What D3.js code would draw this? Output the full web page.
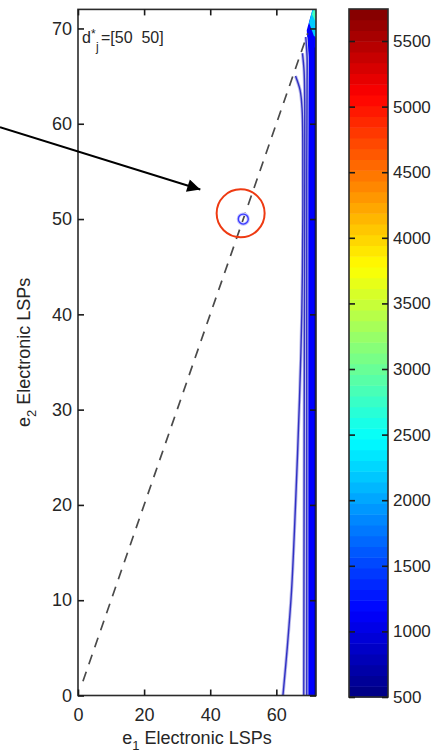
<!DOCTYPE html>
<html>
<head>
<meta charset="utf-8">
<script src="https://cdn.jsdelivr.net/npm/d3@7"></script>
<style>
  html, body { margin: 0; padding: 0; background: #fff; }
  svg { display: block; font-family: "Liberation Sans", Arial, Helvetica, sans-serif; }
</style>
</head>
<body>
<div id="chart"></div>
<script>
// ---------------- data ----------------
const xDomain = [0, 72];
const yDomain = [0, 72];
const xTicks = [0, 20, 40, 60];
const yTicks = [0, 10, 20, 30, 40, 50, 60, 70];
const colorDomain = [500, 5744];
const colorTicks = [500, 1000, 1500, 2000, 2500, 3000, 3500, 4000, 4500, 5000, 5500];
const xLabel = ["e", "1", " Electronic LSPs"];
const yLabel = ["e", "2", " Electronic LSPs"];

// contour lines (e1, e2)
const contourLine1 = [[62,0],[63.3,5],[64.6,11],[65.8,20],[67,31],[67.7,40],[68,50],[68,58],[67.8,61.5],[67.2,63.5],[65.8,65]];
const contourLine2 = [[68.3,0],[68.4,20],[68.5,40],[68.6,55],[68.6,62],[68.4,65.5],[67.9,67.4]];
const contourLine3 = [[69.2,0],[69.2,30],[69.2,55],[69.3,64],[69.3,67],[68.9,69.1]];

// filled contour regions: level + polygon
const fillLevels = [1155, 700, 2200, 2800];
const fillRegions = [
  [[69.6,0],[69.6,40],[69.6,62],[69.7,67],[69.2,69.8],[70.3,71.2],[71,72],[72,72],[72,0]],
  [[71.5,0],[71.5,68],[72,68],[72,0]],
  [[69.9,70.6],[71.3,69.3],[72,69],[72,72],[70.9,72]],
  [[70.8,71.5],[71.7,70.8],[72,70.7],[72,72],[71.3,72]]
];

const refLine = [[1.5,1.5],[69.5,69.5]];
const targetPoint = [50, 50];
const targetLabel = { base: "d", sup: "*", sub: "j", rest: "=[50  50]" };
const labelAnchor = [1.2, 68.5];
const highlightCenter = [49.2, 50.6];
const arrowLine = [[-23.6, 59.65], [37, 53.1]];

// ---------------- layout ----------------
const W = 436, H = 752;
const plot = { left: 78, right: 316, top: 9.4, bottom: 695.5 };
const cb = { left: 349, right: 388, top: 9, bottom: 697 };
const textColor = "#262626";

const jet = t => {
  const c = v => Math.max(0, Math.min(1, v));
  const r = c(1.5 - Math.abs(4 * t - 3));
  const g = c(1.5 - Math.abs(4 * t - 2));
  const b = c(1.5 - Math.abs(4 * t - 1));
  return d3.rgb(r * 255, g * 255, b * 255).formatHex();
};
const color = v => jet((v - colorDomain[0]) / (colorDomain[1] - colorDomain[0]));

const svg = d3.select("#chart").append("svg").attr("width", W).attr("height", H);

const x = d3.scaleLinear().domain(xDomain).range([plot.left, plot.right]);
const y = d3.scaleLinear().domain(yDomain).range([plot.bottom, plot.top]);

svg.append("clipPath").attr("id", "clip").append("rect")
  .attr("x", plot.left).attr("y", plot.top)
  .attr("width", plot.right - plot.left).attr("height", plot.bottom - plot.top);

const g = svg.append("g").attr("clip-path", "url(#clip)");

// filled contours
g.selectAll("path.fill").data(fillRegions).join("path")
  .attr("class", "fill")
  .attr("d", d => d3.line().x(p => x(p[0])).y(p => y(p[1]))(d) + "Z")
  .attr("fill", (d, i) => color(fillLevels[i]))
  .attr("stroke", "none");

// contour lines
const lineGen = d3.line().x(p => x(p[0])).y(p => y(p[1])).curve(d3.curveCatmullRom);
const lines = [contourLine1, contourLine2, contourLine3];
g.selectAll("path.halo").data(lines).join("path")
  .attr("class", "halo").attr("d", lineGen)
  .attr("fill", "none").attr("stroke", "#b9b9ea").attr("stroke-width", 3.2);
g.selectAll("path.cl").data(lines).join("path")
  .attr("class", "cl").attr("d", lineGen)
  .attr("fill", "none").attr("stroke", "#3030c4").attr("stroke-width", 1.4);

// dashed reference line
g.append("path").attr("d", d3.line().x(p => x(p[0])).y(p => y(p[1]))(refLine))
  .attr("fill", "none").attr("stroke", "#4a4a4a").attr("stroke-width", 1.7)
  .attr("stroke-dasharray", "10,8");

// target point
g.append("circle").attr("cx", x(targetPoint[0])).attr("cy", y(targetPoint[1])).attr("r", 5)
  .attr("fill", "none").attr("stroke", "#c4c4ff").attr("stroke-width", 3.2);
g.append("circle").attr("cx", x(targetPoint[0])).attr("cy", y(targetPoint[1])).attr("r", 5)
  .attr("fill", "none").attr("stroke", "#3a3aff").attr("stroke-width", 1.3);

// axes box
svg.append("rect").attr("x", plot.left).attr("y", plot.top)
  .attr("width", plot.right - plot.left).attr("height", plot.bottom - plot.top)
  .attr("fill", "none").attr("stroke", "#2b2b2b").attr("stroke-width", 1.6);

function styleAxis(sel) {
  sel.select(".domain").remove();
  sel.selectAll(".tick line").attr("stroke", "#1a1a1a").attr("stroke-width", 1.6);
  sel.selectAll(".tick text").attr("fill", textColor).attr("font-size", 18)
    .attr("font-family", "Liberation Sans, Arial, sans-serif");
}

svg.append("g").attr("transform", `translate(0,${plot.bottom})`)
  .call(d3.axisBottom(x).tickValues(xTicks).tickSizeInner(-6).tickSizeOuter(0).tickPadding(13))
  .call(styleAxis);
svg.append("g").attr("transform", `translate(0,${plot.top})`)
  .call(d3.axisTop(x).tickValues(xTicks).tickSizeInner(-6).tickSizeOuter(0).tickFormat(""))
  .call(styleAxis);
svg.append("g").attr("transform", `translate(${plot.left},0)`)
  .call(d3.axisLeft(y).tickValues(yTicks).tickSizeInner(-6).tickSizeOuter(0).tickPadding(6))
  .call(styleAxis);
svg.append("g").attr("transform", `translate(${plot.right},0)`)
  .call(d3.axisRight(y).tickValues(yTicks).tickSizeInner(-6).tickSizeOuter(0).tickFormat(""))
  .call(styleAxis);

// axis labels
const xl = svg.append("text").attr("x", (plot.left + plot.right) / 2).attr("y", 744)
  .attr("text-anchor", "middle").attr("font-size", 18).attr("fill", textColor);
xl.append("tspan").text(xLabel[0]);
xl.append("tspan").attr("dy", 6).attr("font-size", 13).text(xLabel[1]);
xl.append("tspan").attr("dy", -6).text(xLabel[2]);

const yl = svg.append("text")
  .attr("transform", `translate(30,${(plot.top + plot.bottom) / 2}) rotate(-90)`)
  .attr("text-anchor", "middle").attr("font-size", 18).attr("fill", textColor);
yl.append("tspan").text(yLabel[0]);
yl.append("tspan").attr("dy", 6).attr("font-size", 13).text(yLabel[1]);
yl.append("tspan").attr("dy", -6).text(yLabel[2]);

// annotation text (d*_j = [50  50])
const ax0 = x(labelAnchor[0]), ay0 = y(labelAnchor[1]);
svg.append("text").attr("x", ax0).attr("y", ay0).attr("font-size", 16).attr("fill", textColor)
  .text(targetLabel.base);
svg.append("text").attr("x", ax0 + 9).attr("y", ay0 - 5).attr("font-size", 12).attr("fill", textColor)
  .text(targetLabel.sup);
svg.append("text").attr("x", ax0 + 14).attr("y", ay0 + 8).attr("font-size", 12).attr("fill", textColor)
  .text(targetLabel.sub);
svg.append("text").attr("x", ax0 + 19).attr("y", ay0).attr("font-size", 16).attr("fill", textColor)
  .style("white-space", "pre").attr("xml:space", "preserve")
  .text(targetLabel.rest);

// highlight circle
svg.append("circle").attr("cx", x(highlightCenter[0])).attr("cy", y(highlightCenter[1])).attr("r", 24)
  .attr("fill", "none").attr("stroke", "#ee3a12").attr("stroke-width", 2);

// arrow
svg.append("defs").append("marker").attr("id", "ah")
  .attr("viewBox", "0 0 10 10").attr("refX", 10).attr("refY", 5)
  .attr("markerWidth", 8.5).attr("markerHeight", 6.5).attr("markerUnits", "strokeWidth")
  .attr("orient", "auto")
  .append("path").attr("d", "M0,0 L10,5 L0,10 Z").attr("fill", "#000");
svg.append("line")
  .attr("x1", x(arrowLine[0][0])).attr("y1", y(arrowLine[0][1]))
  .attr("x2", x(arrowLine[1][0])).attr("y2", y(arrowLine[1][1]))
  .attr("stroke", "#000").attr("stroke-width", 2).attr("marker-end", "url(#ah)");

// ---------------- colorbar ----------------
const cy = d3.scaleLinear().domain(colorDomain).range([cb.bottom, cb.top]);
const nBands = 64;
const bandEdges = d3.range(nBands + 1).map(i => colorDomain[0] + (colorDomain[1] - colorDomain[0]) * i / nBands);
svg.append("g").selectAll("rect").data(d3.range(nBands)).join("rect")
  .attr("x", cb.left).attr("width", cb.right - cb.left)
  .attr("y", i => cy(bandEdges[i + 1]))
  .attr("height", i => cy(bandEdges[i]) - cy(bandEdges[i + 1]) + 0.5)
  .attr("fill", i => jet((i + 0.5) / nBands));
svg.append("rect").attr("x", cb.left).attr("y", cb.top)
  .attr("width", cb.right - cb.left).attr("height", cb.bottom - cb.top)
  .attr("fill", "none").attr("stroke", "#2b2b2b").attr("stroke-width", 1.6);
svg.append("g").attr("transform", `translate(${cb.right},0)`)
  .call(d3.axisRight(cy).tickValues(colorTicks).tickSizeInner(-6).tickSizeOuter(0).tickPadding(5)
    .tickFormat(d3.format("d")))
  .call(styleAxis)
  .call(s => s.selectAll(".tick text").attr("font-size", 17));
svg.append("g").attr("transform", `translate(${cb.left},0)`)
  .call(d3.axisLeft(cy).tickValues(colorTicks).tickSizeInner(-6).tickSizeOuter(0).tickFormat(""))
  .call(styleAxis);
</script>
</body>
</html>
